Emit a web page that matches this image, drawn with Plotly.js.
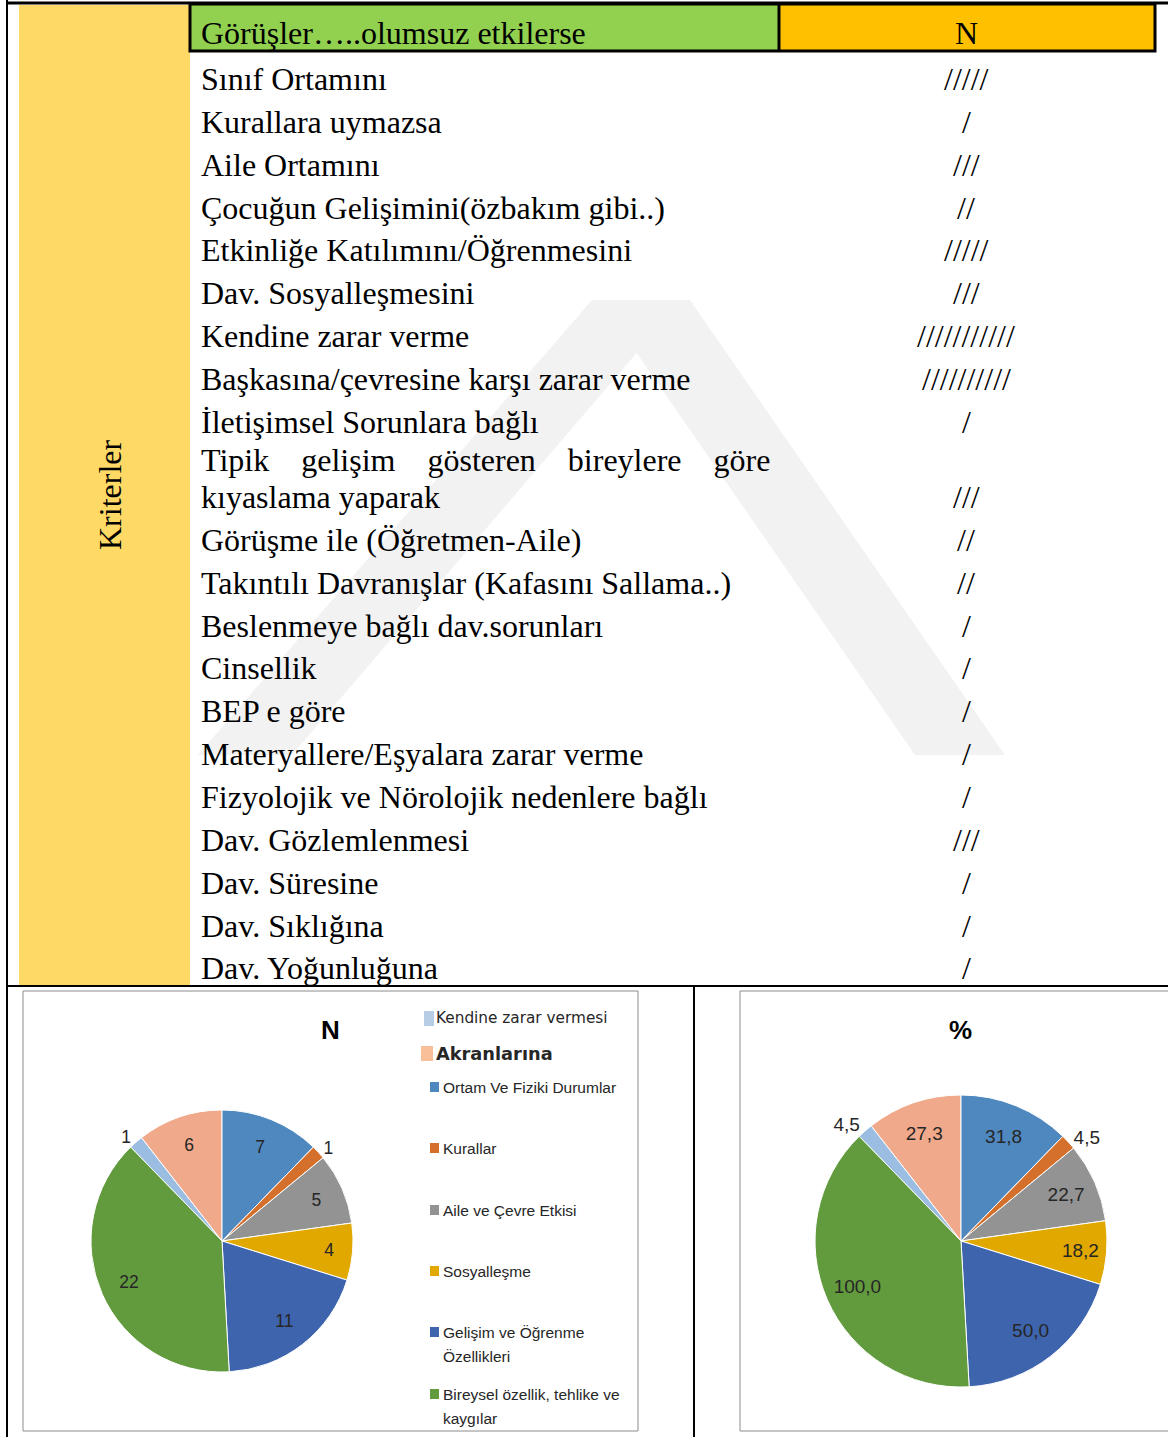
<!DOCTYPE html>
<html><head><meta charset="utf-8">
<script src="https://cdn.plot.ly/plotly-3.0.1.min.js"></script>
<style>html,body{margin:0;padding:0;background:#fff;}#chart{width:1168px;height:1437px;}</style>
</head><body><div id="chart"></div>
<script>
// ---------------- DATA ----------------
const headerLabel = 'Görüşler…..olumsuz etkilerse';
const headerCount = 'N';
const sideLabel = 'Kriterler';
const criteria = [
  'Sınıf Ortamını',
  'Kurallara uymazsa',
  'Aile Ortamını',
  'Çocuğun Gelişimini(özbakım gibi..)',
  'Etkinliğe Katılımını/Öğrenmesini',
  'Dav. Sosyalleşmesini',
  'Kendine zarar verme',
  'Başkasına/çevresine karşı zarar verme',
  'İletişimsel Sorunlara bağlı',
  'Tipik gelişim gösteren bireylere göre\nkıyaslama yaparak',
  'Görüşme ile (Öğretmen-Aile)',
  'Takıntılı Davranışlar (Kafasını Sallama..)',
  'Beslenmeye bağlı dav.sorunları',
  'Cinsellik',
  'BEP e göre',
  'Materyallere/Eşyalara zarar verme',
  'Fizyolojik ve Nörolojik nedenlere bağlı',
  'Dav. Gözlemlenmesi',
  'Dav. Süresine',
  'Dav. Sıklığına',
  'Dav. Yoğunluğuna'
];
const tallyCounts = [5, 1, 3, 2, 5, 3, 11, 10, 1, 3, 2, 2, 1, 1, 1, 1, 1, 3, 1, 1, 1];

const pieLabels = [
  'Kendine zarar vermesi',
  'Akranlarına',
  'Ortam Ve Fiziki Durumlar',
  'Kurallar',
  'Aile ve Çevre Etkisi',
  'Sosyalleşme',
  'Gelişim ve Öğrenme Özellikleri',
  'Bireysel özellik, tehlike ve kaygılar'
];
const pieCounts = [1, 6, 7, 1, 5, 4, 11, 22];
const piePercents = [4.5, 27.3, 31.8, 4.5, 22.7, 18.2, 50.0, 100.0];
const pieTitleN = 'N';
const pieTitlePct = '%';

// ---------------- STYLE / LAYOUT ----------------
const W = 1168, H = 1437;
const px = x => x / W;
const py = y => 1 - y / H;
const serif = 'Liberation Serif, Times New Roman, serif';
const sans = 'Liberation Sans, Arial, sans-serif';
const sliceColors = ['#9BBDE2', '#F0A98B', '#4F88BF', '#D4702B', '#939393', '#E1A800', '#3D64AC', '#629A3E'];
const swatchColors = ['#B7CCE5', '#F8BF99', '#4F88BF', '#D4702B', '#939393', '#E1A800', '#3D64AC', '#629A3E'];

const shapes = [];
const annotations = [];
function rect(x0, y0, x1, y1, fill, line) {
  shapes.push({type: 'rect', xref: 'paper', yref: 'paper', x0: px(x0), x1: px(x1), y0: py(y1), y1: py(y0),
    fillcolor: fill || 'rgba(0,0,0,0)', line: line || {width: 0}});
}
function seg(x0, y0, x1, y1, color, width) {
  shapes.push({type: 'line', xref: 'paper', yref: 'paper', x0: px(x0), x1: px(x1), y0: py(y0), y1: py(y1),
    line: {color: color, width: width}});
}
function poly(pts, fill) {
  const d = 'M' + pts.map(p => px(p[0]) + ',' + py(p[1])).join('L') + 'Z';
  shapes.push({type: 'path', xref: 'paper', yref: 'paper', path: d, fillcolor: fill, line: {width: 0}});
}
function text(t, x, y, opts) {
  opts = opts || {};
  annotations.push(Object.assign({
    text: t, xref: 'paper', yref: 'paper', x: px(x), y: py(y), showarrow: false,
    xanchor: opts.xanchor || 'left', yanchor: 'middle',
    font: {family: opts.family || serif, size: opts.size || 32, color: opts.color || '#000'}
  }, opts.extra || {}));
}

// backgrounds
rect(19, 5, 190, 985, '#FFD966');
rect(190, 4, 779, 51, '#92D050');
rect(779, 4, 1155, 51, '#FFC000');
// faint watermark
poly([[592, 300], [682, 300], [292, 755], [198, 755]], '#F2F2F2');
poly([[600, 300], [690, 300], [1005, 755], [915, 755]], '#F2F2F2');
// table borders
seg(7, 3, 1168, 3, '#000', 3);
seg(7, 0, 7, 1437, '#000', 2);
rect(190, 4, 1155, 51, null, {color: '#000', width: 3});
seg(779, 4, 779, 51, '#000', 3);
seg(7, 986, 1168, 986, '#000', 2);
seg(694, 986, 694, 1437, '#000', 2);
// chart boxes
rect(23, 991, 638, 1431, null, {color: '#8C8C8C', width: 1});
rect(740, 991, 1175, 1431, null, {color: '#8C8C8C', width: 1});

// table text
text(headerLabel, 199, 33);
text(headerCount, 966, 33, {xanchor: 'center'});
text(sideLabel, 110, 495, {xanchor: 'center', extra: {textangle: -90}});

let y = 79;
criteria.forEach((c, i) => {
  const tally = '/'.repeat(tallyCounts[i]);
  const lines = c.split('\n');
  if (lines.length === 1) {
    text(c, 199, y);
    text(tally, 966, y, {xanchor: 'center'});
    y += 42.85;
  } else {
    y -= 4.8;
    text(lines[0].split(' ').join('\u00A0\u00A0\u00A0\u00A0'), 199, y);
    y += 37;
    text(lines[1], 199, y);
    text(tally, 966, y, {xanchor: 'center'});
    y += 43;
  }
});

// chart titles
text('<b>' + pieTitleN + '</b>', 330, 1030, {xanchor: 'center', family: sans, size: 26, color: '#000'});
text('<b>' + pieTitlePct + '</b>', 960, 1030, {xanchor: 'center', family: sans, size: 26, color: '#000'});

// manual legend for the N chart
const legendY = [1018, 1053, 1087, 1148, 1210, 1271, 1332, 1394];
function wrap(s, max) {
  const out = []; let cur = '';
  s.split(' ').forEach(w => {
    if ((cur + ' ' + w).trim().length > max) { out.push(cur); cur = w; } else { cur = (cur + ' ' + w).trim(); }
  });
  out.push(cur); return out;
}
pieLabels.forEach((lab, i) => {
  const ly = legendY[i];
  if (i === 0) {
    rect(424, ly - 7, 434, ly + 8, swatchColors[i]);
    text(lab, 434, ly, {family: 'DejaVu Sans, Verdana, sans-serif', size: 15.3, color: '#262626'});
  } else if (i === 1) {
    rect(421, ly - 7, 433, ly + 8, swatchColors[i]);
    text('<b>' + lab + '</b>', 434, ly, {family: 'DejaVu Sans, Verdana, sans-serif', size: 17.8, color: '#262626'});
  } else {
    rect(430, ly - 5, 439, ly + 5, swatchColors[i]);
    wrap(lab, 28).forEach((ln, k) => text(ln, 441, ly + k * 24, {family: sans, size: 15.5, color: '#262626'}));
  }
});

// ---------------- PIES ----------------
function dom(cx, cy, r) { return {x: [px(cx - r), px(cx + r)], y: [py(cy + r), py(cy - r)]}; }
function rotationFor(vals) {
  const tot = vals.reduce((a, b) => a + b, 0);
  return -360 * (vals[0] + vals[1]) / tot;
}
function positionsFor(vals) {
  const tot = vals.reduce((a, b) => a + b, 0);
  return vals.map(v => v / tot < 0.03 ? 'outside' : 'inside');
}
function pieTraces(vals, cx, cy, r, tmpl, fontSize) {
  const base = {
    type: 'pie', labels: pieLabels, values: vals, sort: false, direction: 'clockwise',
    rotation: rotationFor(vals), domain: dom(cx, cy, r), textinfo: 'none', showlegend: false,
    marker: {colors: sliceColors, line: {color: '#FFFFFF', width: 1}}, hoverinfo: 'skip'
  };
  const labelsOverlay = {
    type: 'pie', labels: pieLabels, values: vals, sort: false, direction: 'clockwise',
    rotation: rotationFor(vals), domain: dom(cx, cy, r), hole: 0.55, showlegend: false,
    marker: {colors: vals.map(() => 'rgba(0,0,0,0)'), line: {width: 0}},
    texttemplate: tmpl, textposition: positionsFor(vals), insidetextorientation: 'horizontal',
    textfont: {family: sans, size: fontSize, color: '#262626'}, hoverinfo: 'skip'
  };
  return [base, labelsOverlay];
}

const data = [].concat(
  pieTraces(pieCounts, 222, 1241, 131, '%{value}', 17.5),
  pieTraces(piePercents, 961, 1241, 146, '%{value:.1f}', 19)
);

const layout = {
  width: W, height: H, margin: {l: 0, r: 0, t: 0, b: 0},
  paper_bgcolor: '#FFFFFF', plot_bgcolor: '#FFFFFF',
  showlegend: false, separators: ',.',
  shapes: shapes, annotations: annotations
};
Plotly.newPlot('chart', data, layout, {displayModeBar: false, staticPlot: true});
</script></body></html>
